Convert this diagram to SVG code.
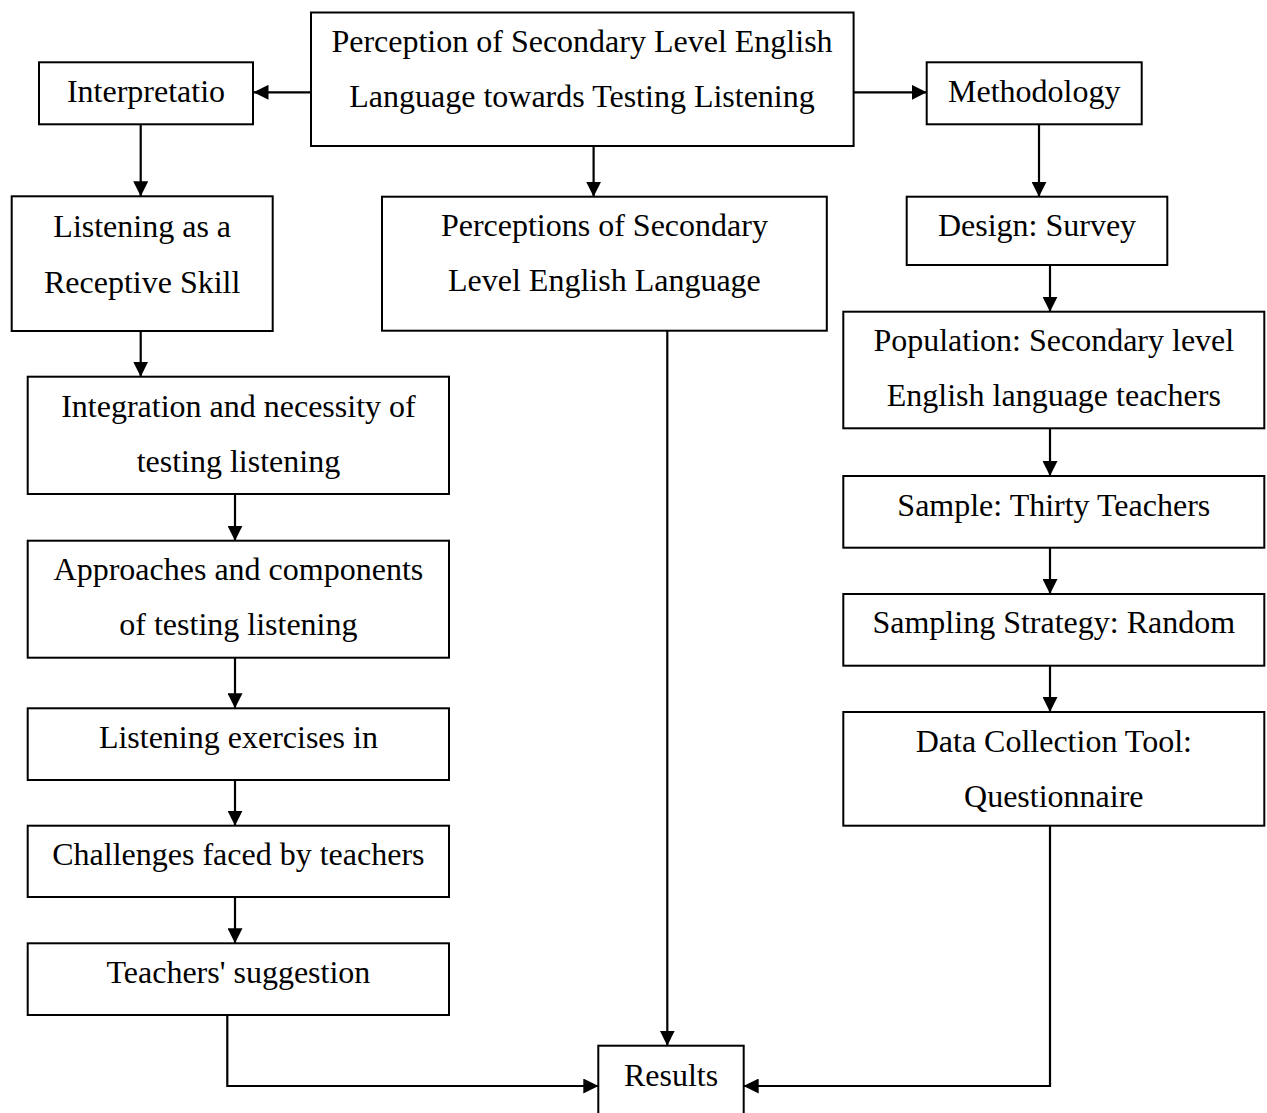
<svg xmlns="http://www.w3.org/2000/svg" width="1267" height="1113" viewBox="0 0 1267 1113">
<style>
rect{fill:#fff;stroke:#000;stroke-width:2}
text{font-family:"Liberation Serif","Times New Roman",serif;font-size:32px;fill:#000;text-anchor:middle}
.c{fill:none;stroke:#000;stroke-width:2.2}
</style>
<defs>
<marker id="ah" markerUnits="userSpaceOnUse" markerWidth="15" markerHeight="15" refX="15" refY="7.5" orient="auto">
<path d="M0,0 L15,7.5 L0,15 z" fill="#000"/>
</marker>
</defs>
<g id="connectors">
<path class="c" d="M311,92.3 H253.5" marker-end="url(#ah)"/>
<path class="c" d="M853.6,92.3 H926.7" marker-end="url(#ah)"/>
<path class="c" d="M593.6,146 V196.7" marker-end="url(#ah)"/>
<path class="c" d="M140.7,124.3 V196.3" marker-end="url(#ah)"/>
<path class="c" d="M140.7,331 V376.7" marker-end="url(#ah)"/>
<path class="c" d="M235,494 V540.7" marker-end="url(#ah)"/>
<path class="c" d="M235,657.7 V708.3" marker-end="url(#ah)"/>
<path class="c" d="M235,780 V825.7" marker-end="url(#ah)"/>
<path class="c" d="M235,897 V943.3" marker-end="url(#ah)"/>
<path class="c" d="M227.3,1015 V1086 H598.3" marker-end="url(#ah)"/>
<path class="c" d="M667.3,330.7 V1045.7" marker-end="url(#ah)"/>
<path class="c" d="M1050,825.7 V1086 H743.7" marker-end="url(#ah)"/>
<path class="c" d="M1039,124.3 V196.7" marker-end="url(#ah)"/>
<path class="c" d="M1050,265 V311.7" marker-end="url(#ah)"/>
<path class="c" d="M1050,428.3 V476" marker-end="url(#ah)"/>
<path class="c" d="M1050,547.7 V594" marker-end="url(#ah)"/>
<path class="c" d="M1050,665.7 V712" marker-end="url(#ah)"/>
</g>
<g id="top"><rect x="311" y="12.5" width="542.6" height="133.5"/><text x="582" y="51.7">Perception of Secondary Level English</text><text x="582" y="107.3">Language towards Testing Listening</text></g>
<g id="interpretatio"><rect x="39" y="62.3" width="214" height="62"/><text x="146" y="101.7">Interpretatio</text></g>
<g id="methodology"><rect x="926.7" y="62.3" width="215" height="62"/><text x="1034.2" y="101.7">Methodology</text></g>
<g id="listening"><rect x="11.7" y="196.3" width="261" height="134.7"/><text x="142.2" y="236.5">Listening as a</text><text x="142.2" y="292.7">Receptive Skill</text></g>
<g id="perceptions"><rect x="382" y="196.7" width="444.8" height="134"/><text x="604.4" y="235.5">Perceptions of Secondary</text><text x="604.4" y="291.3">Level English Language</text></g>
<g id="design"><rect x="906.7" y="196.7" width="260.6" height="68.3"/><text x="1037" y="236">Design: Survey</text></g>
<g id="population"><rect x="843.3" y="311.7" width="421" height="116.6"/><text x="1053.8" y="350.7">Population: Secondary level</text><text x="1053.8" y="405.7">English language teachers</text></g>
<g id="sample"><rect x="843.3" y="476" width="421" height="71.7"/><text x="1053.8" y="515.7">Sample: Thirty Teachers</text></g>
<g id="sampling"><rect x="843.3" y="594" width="421" height="71.7"/><text x="1053.8" y="633.3">Sampling Strategy: Random</text></g>
<g id="datacollection"><rect x="843.3" y="712" width="421" height="113.7"/><text x="1053.8" y="751.7">Data Collection Tool:</text><text x="1053.8" y="806.7">Questionnaire</text></g>
<g id="integration"><rect x="27.7" y="376.7" width="421.3" height="117.3"/><text x="238.4" y="416.7">Integration and necessity of</text><text x="238.4" y="471.7">testing listening</text></g>
<g id="approaches"><rect x="27.7" y="540.7" width="421.3" height="117"/><text x="238.4" y="580">Approaches and components</text><text x="238.4" y="635">of testing listening</text></g>
<g id="exercises"><rect x="27.7" y="708.3" width="421.3" height="71.7"/><text x="238.4" y="748.3">Listening exercises in</text></g>
<g id="challenges"><rect x="27.7" y="825.7" width="421.3" height="71.3"/><text x="238.4" y="865">Challenges faced by teachers</text></g>
<g id="suggestion"><rect x="27.7" y="943.3" width="421.3" height="71.7"/><text x="238.4" y="982.7">Teachers' suggestion</text></g>
<g id="results"><rect x="598.3" y="1045.7" width="145.4" height="80"/><text x="671" y="1086">Results</text></g>
</svg>
